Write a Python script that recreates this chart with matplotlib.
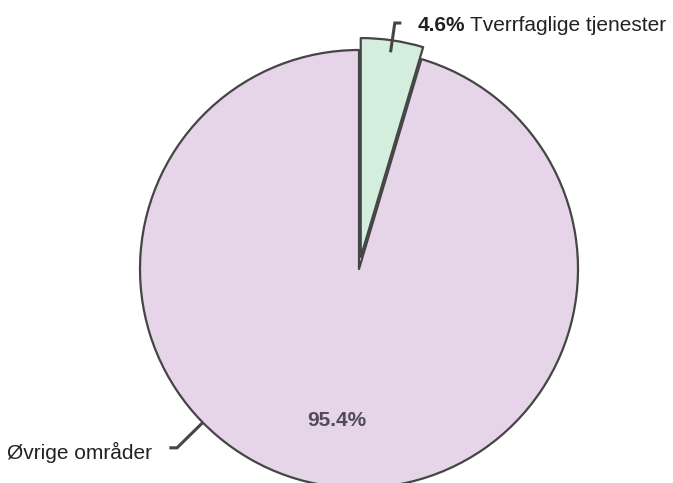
import numpy as np
import matplotlib
matplotlib.use("Agg")
import matplotlib.pyplot as plt

categories = ["Tverrfaglige tjenester", "Øvrige områder"]
values = [4.6, 95.4]
colors = ["#d3eedd", "#e6d5e8"]
explode = [0.055, 0.0]

plt.rcParams['font.family'] = ['Liberation Sans', 'DejaVu Sans']

W, H = 673, 483
fig = plt.figure(figsize=(W / 100, H / 100), dpi=100)
ax = fig.add_axes([0, 0, 1, 1])

wedges, _ = ax.pie(values, colors=colors, explode=explode, startangle=90,
                   counterclock=False, radius=1.0,
                   wedgeprops=dict(edgecolor="#454545", linewidth=1.6,
                                   joinstyle='round'))

# pixel layout: centre (359, 269), radius 219 px
cx, cy, R = 359, 269, 219
ax.set_xlim(-cx / R, (W - cx) / R)
ax.set_ylim(-(H - cy) / R, cy / R)
ax.set_aspect('equal')
ax.axis('off')

fs = 15
edge_col = "#454545"

# small slice label
th0 = np.deg2rad(90 - values[0] / 100 * 360 / 2)
p1 = np.array([np.cos(th0), np.sin(th0)]) * 1.0
p2 = np.array([np.cos(th0), np.sin(th0)]) * 1.135
p3 = p2 + np.array([0.03, 0])
ax.plot([p1[0], p2[0], p3[0]], [p1[1], p2[1], p3[1]], color=edge_col, lw=2.2,
        solid_capstyle='butt', solid_joinstyle='miter')
ty = p3[1] - 0.012
t = ax.text(p3[0] + 0.075, ty, f"{values[0]}%", fontsize=fs, fontweight='bold',
            color="#222222", ha='left', va='center')
fig.canvas.draw()
bb = t.get_window_extent()
x_end = ax.transData.inverted().transform((bb.x1, 0))[0]
ax.text(x_end + 0.02, ty, categories[0], fontsize=fs, color="#222222",
        ha='left', va='center')

# large slice outside label
th1 = np.deg2rad(-135.5)
q1 = np.array([np.cos(th1), np.sin(th1)]) * 1.0
q2 = np.array([np.cos(th1), np.sin(th1)]) * 1.165
q3 = q2 - np.array([0.035, 0])
ax.plot([q1[0], q2[0], q3[0]], [q1[1], q2[1], q3[1]], color=edge_col, lw=2.2,
        solid_capstyle='butt', solid_joinstyle='miter')
ax.text(q3[0] - 0.08, q3[1] - 0.02, categories[1], fontsize=fs, color="#222222",
        ha='right', va='center')

# inside percentage
thm = np.deg2rad(90 - values[0] / 100 * 360 - values[1] / 100 * 360 / 2)
ax.text(0.7 * np.cos(thm), 0.7 * np.sin(thm), f"{values[1]}%", fontsize=fs,
        fontweight='bold', color="#504a5a", ha='center', va='center')

fig.savefig("out.png", dpi=100)
